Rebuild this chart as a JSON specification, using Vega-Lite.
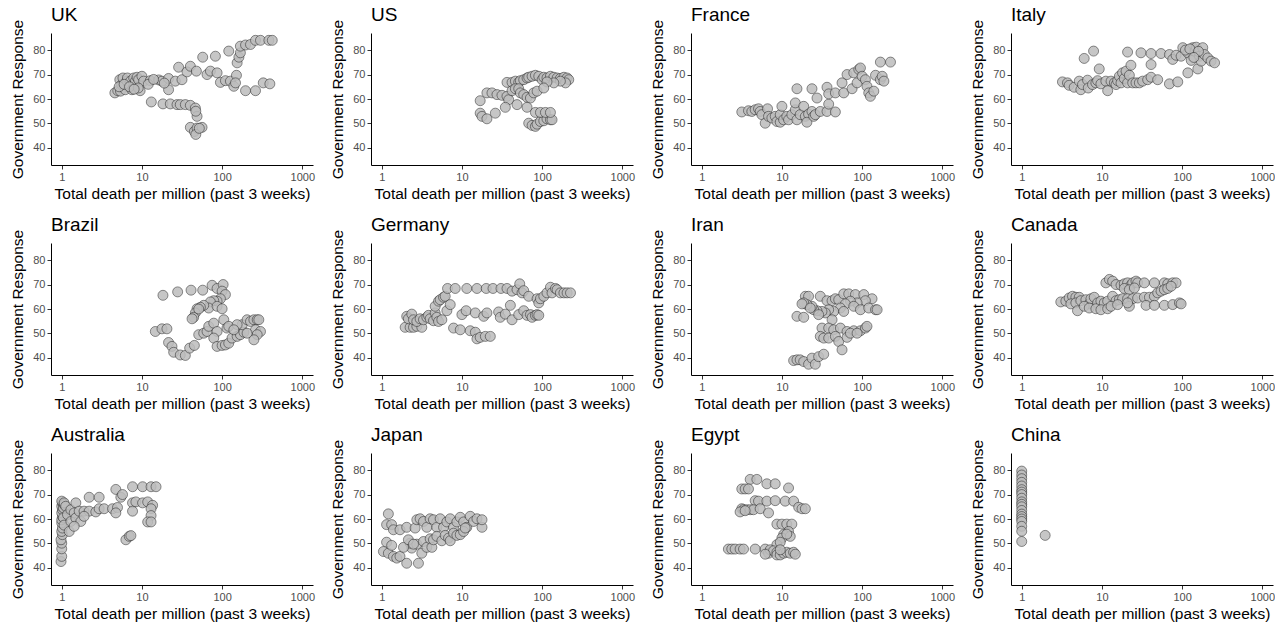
{
"$schema":"https://vega.github.io/schema/vega-lite/v6.json",
"padding":{"left":10,"top":6,"right":0,"bottom":0},
"background":"white",
"data":{"values":[
{"country":"UK","deaths":4.6,"response":62.5},{"country":"UK","deaths":5.0,"response":63.4},{"country":"UK","deaths":5.3,"response":67.9},{"country":"UK","deaths":5.4,"response":63.2},{"country":"UK","deaths":5.6,"response":65.9},{"country":"UK","deaths":5.8,"response":68.6},{"country":"UK","deaths":6.2,"response":63.8},{"country":"UK","deaths":6.5,"response":67.3},{"country":"UK","deaths":6.6,"response":68.6},{"country":"UK","deaths":7.2,"response":67.3},{"country":"UK","deaths":7.5,"response":63.8},{"country":"UK","deaths":7.9,"response":68.6},{"country":"UK","deaths":8.3,"response":67.3},{"country":"UK","deaths":8.7,"response":68.9},{"country":"UK","deaths":9.1,"response":67.9},{"country":"UK","deaths":9.5,"response":63.4},{"country":"UK","deaths":10,"response":69.3},{"country":"UK","deaths":10.5,"response":67.3},{"country":"UK","deaths":12.7,"response":67.5},{"country":"UK","deaths":16.2,"response":67.8},{"country":"UK","deaths":17.8,"response":67.3},{"country":"UK","deaths":21.5,"response":68.4},{"country":"UK","deaths":21.5,"response":63.8},{"country":"UK","deaths":26.1,"response":67.3},{"country":"UK","deaths":31.6,"response":67.9},{"country":"UK","deaths":28.7,"response":73.0},{"country":"UK","deaths":36.5,"response":71.1},{"country":"UK","deaths":40.2,"response":73.4},{"country":"UK","deaths":47.8,"response":71.4},{"country":"UK","deaths":57.3,"response":77.1},{"country":"UK","deaths":64.9,"response":70},{"country":"UK","deaths":71.5,"response":71.4},{"country":"UK","deaths":86.6,"response":70.7},{"country":"UK","deaths":82.5,"response":77.5},{"country":"UK","deaths":95.3,"response":66.8},{"country":"UK","deaths":110,"response":67.5},{"country":"UK","deaths":121,"response":79.6},{"country":"UK","deaths":127,"response":67.3},{"country":"UK","deaths":140,"response":65.2},{"country":"UK","deaths":151,"response":69.7},{"country":"UK","deaths":147,"response":66.6},{"country":"UK","deaths":154,"response":74.8},{"country":"UK","deaths":162,"response":77.1},{"country":"UK","deaths":169,"response":78.9},{"country":"UK","deaths":169,"response":81.6},{"country":"UK","deaths":196,"response":82.1},{"country":"UK","deaths":226,"response":82.3},{"country":"UK","deaths":261,"response":84},{"country":"UK","deaths":301,"response":84},{"country":"UK","deaths":383,"response":84},{"country":"UK","deaths":422,"response":84},{"country":"UK","deaths":196,"response":63.4},{"country":"UK","deaths":261,"response":63.4},{"country":"UK","deaths":326,"response":66.6},{"country":"UK","deaths":394,"response":66.2},{"country":"UK","deaths":13.1,"response":58.8},{"country":"UK","deaths":18.3,"response":58},{"country":"UK","deaths":22.6,"response":58},{"country":"UK","deaths":27.4,"response":57.7},{"country":"UK","deaths":30.1,"response":57.7},{"country":"UK","deaths":34.8,"response":57.7},{"country":"UK","deaths":40.2,"response":57.4},{"country":"UK","deaths":46.4,"response":56.3},{"country":"UK","deaths":48.7,"response":52.9},{"country":"UK","deaths":40.2,"response":48.4},{"country":"UK","deaths":45.1,"response":46.7},{"country":"UK","deaths":48.7,"response":48.1},{"country":"UK","deaths":56.2,"response":48.4},{"country":"UK","deaths":47,"response":55},{"country":"UK","deaths":47,"response":45.5},{"country":"UK","deaths":52,"response":48},{"country":"UK","deaths":5.2,"response":65},{"country":"UK","deaths":6.0,"response":66},{"country":"UK","deaths":7.0,"response":65},{"country":"UK","deaths":9.0,"response":64.5},{"country":"UK","deaths":8.0,"response":64},{"country":"UK","deaths":12,"response":66},{"country":"UK","deaths":14,"response":68},{"country":"UK","deaths":19,"response":66.5},
{"country":"US","deaths":36.5,"response":66.8},{"country":"US","deaths":42.2,"response":66.8},{"country":"US","deaths":46.4,"response":67.3},{"country":"US","deaths":51.1,"response":66.8},{"country":"US","deaths":53.6,"response":67.5},{"country":"US","deaths":59,"response":67.9},{"country":"US","deaths":64.9,"response":68.6},{"country":"US","deaths":68.1,"response":68.9},{"country":"US","deaths":75,"response":69.3},{"country":"US","deaths":82.5,"response":69.7},{"country":"US","deaths":90.9,"response":69.3},{"country":"US","deaths":100,"response":67.9},{"country":"US","deaths":105,"response":68.9},{"country":"US","deaths":115,"response":68.6},{"country":"US","deaths":127,"response":69.3},{"country":"US","deaths":140,"response":68.9},{"country":"US","deaths":154,"response":68.6},{"country":"US","deaths":169,"response":68.4},{"country":"US","deaths":187,"response":68.9},{"country":"US","deaths":205,"response":68.6},{"country":"US","deaths":215,"response":67.9},{"country":"US","deaths":196,"response":66.6},{"country":"US","deaths":169,"response":67.3},{"country":"US","deaths":140,"response":66.6},{"country":"US","deaths":115,"response":67.0},{"country":"US","deaths":16.9,"response":59.3},{"country":"US","deaths":20.5,"response":62.5},{"country":"US","deaths":23.7,"response":62.5},{"country":"US","deaths":27.4,"response":61.8},{"country":"US","deaths":31.6,"response":61.5},{"country":"US","deaths":36.5,"response":61.1},{"country":"US","deaths":38.3,"response":59.7},{"country":"US","deaths":42.2,"response":63.4},{"country":"US","deaths":46.4,"response":64.2},{"country":"US","deaths":51.1,"response":64.2},{"country":"US","deaths":53.6,"response":62.5},{"country":"US","deaths":59,"response":61.8},{"country":"US","deaths":64.9,"response":60.7},{"country":"US","deaths":71.5,"response":60.4},{"country":"US","deaths":78.7,"response":62.5},{"country":"US","deaths":86.6,"response":63.2},{"country":"US","deaths":105,"response":64.5},{"country":"US","deaths":34.8,"response":56.6},{"country":"US","deaths":48.7,"response":57.7},{"country":"US","deaths":64.9,"response":56.6},{"country":"US","deaths":16.9,"response":54.2},{"country":"US","deaths":17.8,"response":52.9},{"country":"US","deaths":20.5,"response":51.9},{"country":"US","deaths":26.1,"response":54.2},{"country":"US","deaths":68.1,"response":50.1},{"country":"US","deaths":75,"response":49.2},{"country":"US","deaths":82.5,"response":48.8},{"country":"US","deaths":86.6,"response":49.7},{"country":"US","deaths":95.3,"response":50.8},{"country":"US","deaths":105,"response":51.1},{"country":"US","deaths":115,"response":51.9},{"country":"US","deaths":127,"response":51.5},{"country":"US","deaths":133,"response":51.5},{"country":"US","deaths":82.5,"response":54.5},{"country":"US","deaths":95.3,"response":54.5},{"country":"US","deaths":110,"response":54.5},{"country":"US","deaths":127,"response":54.5},
{"country":"France","deaths":3.16,"response":54.7},{"country":"France","deaths":3.83,"response":55.2},{"country":"France","deaths":4.22,"response":54.9},{"country":"France","deaths":4.64,"response":55.6},{"country":"France","deaths":5.11,"response":56.0},{"country":"France","deaths":5.36,"response":54.9},{"country":"France","deaths":5.62,"response":53.6},{"country":"France","deaths":6.19,"response":50.1},{"country":"France","deaths":6.62,"response":56.0},{"country":"France","deaths":6.81,"response":52.9},{"country":"France","deaths":7.5,"response":52.2},{"country":"France","deaths":8.25,"response":52.9},{"country":"France","deaths":8.66,"response":50.8},{"country":"France","deaths":9.53,"response":50.5},{"country":"France","deaths":9.53,"response":53.6},{"country":"France","deaths":10,"response":57.0},{"country":"France","deaths":10.5,"response":51.5},{"country":"France","deaths":11.5,"response":52.9},{"country":"France","deaths":12.1,"response":51.5},{"country":"France","deaths":13.3,"response":53.6},{"country":"France","deaths":14.7,"response":55.6},{"country":"France","deaths":14.7,"response":58.4},{"country":"France","deaths":15.4,"response":51.5},{"country":"France","deaths":16.9,"response":53.6},{"country":"France","deaths":18.7,"response":57.0},{"country":"France","deaths":19.6,"response":52.9},{"country":"France","deaths":21.5,"response":53.8},{"country":"France","deaths":20.5,"response":50.5},{"country":"France","deaths":23.7,"response":54.9},{"country":"France","deaths":24.9,"response":52.9},{"country":"France","deaths":26.1,"response":53.6},{"country":"France","deaths":30.1,"response":54.9},{"country":"France","deaths":36.5,"response":54.9},{"country":"France","deaths":38.3,"response":57.9},{"country":"France","deaths":46.4,"response":54.7},{"country":"France","deaths":15.4,"response":64.2},{"country":"France","deaths":23.7,"response":64.2},{"country":"France","deaths":27.4,"response":60.4},{"country":"France","deaths":36.5,"response":64.8},{"country":"France","deaths":38.3,"response":62.1},{"country":"France","deaths":46.4,"response":62.5},{"country":"France","deaths":59,"response":62.5},{"country":"France","deaths":56.2,"response":66.6},{"country":"France","deaths":64.9,"response":70},{"country":"France","deaths":75,"response":64.2},{"country":"France","deaths":78.7,"response":70.7},{"country":"France","deaths":86.6,"response":66.6},{"country":"France","deaths":90.9,"response":72.1},{"country":"France","deaths":95.3,"response":72.7},{"country":"France","deaths":100,"response":69.3},{"country":"France","deaths":110,"response":67.9},{"country":"France","deaths":115,"response":65.2},{"country":"France","deaths":121,"response":62.5},{"country":"France","deaths":127,"response":61.1},{"country":"France","deaths":140,"response":63.2},{"country":"France","deaths":147,"response":69.7},{"country":"France","deaths":169,"response":67.9},{"country":"France","deaths":178,"response":69.3},{"country":"France","deaths":187,"response":67.3},{"country":"France","deaths":169,"response":75.1},{"country":"France","deaths":226,"response":75.1},
{"country":"Italy","deaths":3.22,"response":67.0},{"country":"Italy","deaths":3.72,"response":66.6},{"country":"Italy","deaths":3.9,"response":65.6},{"country":"Italy","deaths":4.51,"response":64.8},{"country":"Italy","deaths":5.21,"response":67.3},{"country":"Italy","deaths":5.46,"response":63.8},{"country":"Italy","deaths":5.73,"response":65.9},{"country":"Italy","deaths":6.62,"response":67.7},{"country":"Italy","deaths":6.75,"response":64.5},{"country":"Italy","deaths":7.64,"response":65.9},{"country":"Italy","deaths":8.41,"response":66.6},{"country":"Italy","deaths":8.83,"response":67.5},{"country":"Italy","deaths":9.71,"response":66.2},{"country":"Italy","deaths":11.2,"response":67.3},{"country":"Italy","deaths":11.8,"response":63.4},{"country":"Italy","deaths":13.0,"response":67.3},{"country":"Italy","deaths":14.3,"response":66.6},{"country":"Italy","deaths":15.0,"response":65.9},{"country":"Italy","deaths":15.7,"response":67.5},{"country":"Italy","deaths":16.5,"response":69.3},{"country":"Italy","deaths":17.3,"response":66.6},{"country":"Italy","deaths":18.1,"response":70.7},{"country":"Italy","deaths":19.0,"response":68.4},{"country":"Italy","deaths":20.0,"response":71.4},{"country":"Italy","deaths":20.9,"response":66.6},{"country":"Italy","deaths":22.0,"response":69.7},{"country":"Italy","deaths":23.0,"response":73.8},{"country":"Italy","deaths":24.2,"response":66.6},{"country":"Italy","deaths":26.6,"response":66.6},{"country":"Italy","deaths":29.3,"response":66.6},{"country":"Italy","deaths":32.2,"response":67.3},{"country":"Italy","deaths":37.2,"response":67.9},{"country":"Italy","deaths":41.0,"response":68.9},{"country":"Italy","deaths":49.6,"response":67.9},{"country":"Italy","deaths":69.5,"response":66.2},{"country":"Italy","deaths":88.3,"response":67.0},{"country":"Italy","deaths":6.01,"response":76.6},{"country":"Italy","deaths":7.87,"response":79.6},{"country":"Italy","deaths":9.26,"response":72.3},{"country":"Italy","deaths":20.9,"response":79.2},{"country":"Italy","deaths":30.7,"response":78.9},{"country":"Italy","deaths":41.0,"response":78.6},{"country":"Italy","deaths":41.0,"response":74.1},{"country":"Italy","deaths":54.6,"response":78.6},{"country":"Italy","deaths":69.5,"response":78.2},{"country":"Italy","deaths":76.4,"response":76.2},{"country":"Italy","deaths":84.1,"response":77.9},{"country":"Italy","deaths":97.2,"response":77.5},{"country":"Italy","deaths":102,"response":81.0},{"country":"Italy","deaths":118,"response":78.9},{"country":"Italy","deaths":118,"response":70.7},{"country":"Italy","deaths":130,"response":75.8},{"country":"Italy","deaths":136,"response":81.0},{"country":"Italy","deaths":143,"response":79.6},{"country":"Italy","deaths":150,"response":81.2},{"country":"Italy","deaths":157,"response":72.3},{"country":"Italy","deaths":165,"response":77.5},{"country":"Italy","deaths":173,"response":75.5},{"country":"Italy","deaths":181,"response":81.0},{"country":"Italy","deaths":190,"response":78.2},{"country":"Italy","deaths":209,"response":76.8},{"country":"Italy","deaths":230,"response":75.5},{"country":"Italy","deaths":254,"response":74.8},{"country":"Italy","deaths":110,"response":80},{"country":"Italy","deaths":125,"response":80.5},{"country":"Italy","deaths":160,"response":79.5},{"country":"Italy","deaths":140,"response":77},
{"country":"Brazil","deaths":18.3,"response":65.6},{"country":"Brazil","deaths":27.9,"response":67.0},{"country":"Brazil","deaths":41.0,"response":67.7},{"country":"Brazil","deaths":57.3,"response":67.7},{"country":"Brazil","deaths":75,"response":69.7},{"country":"Brazil","deaths":86.6,"response":68.4},{"country":"Brazil","deaths":103,"response":70},{"country":"Brazil","deaths":100,"response":67.3},{"country":"Brazil","deaths":110,"response":65.9},{"country":"Brazil","deaths":95.3,"response":64.2},{"country":"Brazil","deaths":86.6,"response":63.2},{"country":"Brazil","deaths":78.7,"response":63.4},{"country":"Brazil","deaths":71.5,"response":62.9},{"country":"Brazil","deaths":68.1,"response":60.4},{"country":"Brazil","deaths":59,"response":61.5},{"country":"Brazil","deaths":53.6,"response":60.7},{"country":"Brazil","deaths":48.7,"response":60.1},{"country":"Brazil","deaths":46.4,"response":58.4},{"country":"Brazil","deaths":44.2,"response":56.6},{"country":"Brazil","deaths":42.2,"response":56.0},{"country":"Brazil","deaths":51.1,"response":60.0},{"country":"Brazil","deaths":86.6,"response":61.1},{"country":"Brazil","deaths":100,"response":60.1},{"country":"Brazil","deaths":14.7,"response":50.8},{"country":"Brazil","deaths":17.8,"response":51.9},{"country":"Brazil","deaths":20.5,"response":51.9},{"country":"Brazil","deaths":21.5,"response":46.3},{"country":"Brazil","deaths":23.7,"response":44.7},{"country":"Brazil","deaths":24.9,"response":42.3},{"country":"Brazil","deaths":30.1,"response":41.2},{"country":"Brazil","deaths":34.8,"response":41.0},{"country":"Brazil","deaths":39.4,"response":44.0},{"country":"Brazil","deaths":45.1,"response":45.1},{"country":"Brazil","deaths":51.1,"response":49.5},{"country":"Brazil","deaths":59,"response":50.1},{"country":"Brazil","deaths":64.9,"response":50.8},{"country":"Brazil","deaths":68.1,"response":52.9},{"country":"Brazil","deaths":78.7,"response":54.2},{"country":"Brazil","deaths":86.6,"response":50.8},{"country":"Brazil","deaths":105,"response":55.6},{"country":"Brazil","deaths":115,"response":52.2},{"country":"Brazil","deaths":121,"response":52.9},{"country":"Brazil","deaths":78.7,"response":48.1},{"country":"Brazil","deaths":86.6,"response":44.7},{"country":"Brazil","deaths":100,"response":45.1},{"country":"Brazil","deaths":110,"response":45.3},{"country":"Brazil","deaths":121,"response":46.0},{"country":"Brazil","deaths":133,"response":48.1},{"country":"Brazil","deaths":154,"response":48.8},{"country":"Brazil","deaths":169,"response":49.5},{"country":"Brazil","deaths":187,"response":50.5},{"country":"Brazil","deaths":178,"response":53.6},{"country":"Brazil","deaths":205,"response":55.6},{"country":"Brazil","deaths":226,"response":54.9},{"country":"Brazil","deaths":249,"response":55.6},{"country":"Brazil","deaths":274,"response":55.6},{"country":"Brazil","deaths":287,"response":55.6},{"country":"Brazil","deaths":261,"response":51.5},{"country":"Brazil","deaths":301,"response":50.8},{"country":"Brazil","deaths":274,"response":49.5},{"country":"Brazil","deaths":249,"response":47.4},{"country":"Brazil","deaths":205,"response":50.1},{"country":"Brazil","deaths":154,"response":53.6},{"country":"Brazil","deaths":140,"response":51.5},
{"country":"Germany","deaths":1.96,"response":52.5},{"country":"Germany","deaths":2.26,"response":52.5},{"country":"Germany","deaths":2.49,"response":52.5},{"country":"Germany","deaths":2.74,"response":52.9},{"country":"Germany","deaths":3.16,"response":52.5},{"country":"Germany","deaths":2.05,"response":57.0},{"country":"Germany","deaths":2.15,"response":56.0},{"country":"Germany","deaths":2.37,"response":57.9},{"country":"Germany","deaths":2.49,"response":55.6},{"country":"Germany","deaths":2.74,"response":54.9},{"country":"Germany","deaths":3.01,"response":56.0},{"country":"Germany","deaths":3.32,"response":55.6},{"country":"Germany","deaths":3.65,"response":56.6},{"country":"Germany","deaths":3.83,"response":57.4},{"country":"Germany","deaths":4.02,"response":56.0},{"country":"Germany","deaths":4.42,"response":55.2},{"country":"Germany","deaths":4.64,"response":58.4},{"country":"Germany","deaths":4.87,"response":56.6},{"country":"Germany","deaths":5.11,"response":54.9},{"country":"Germany","deaths":5.62,"response":55.6},{"country":"Germany","deaths":4.64,"response":61.1},{"country":"Germany","deaths":5.11,"response":63.2},{"country":"Germany","deaths":5.36,"response":63.8},{"country":"Germany","deaths":5.9,"response":64.8},{"country":"Germany","deaths":6.19,"response":65.2},{"country":"Germany","deaths":6.62,"response":68.4},{"country":"Germany","deaths":8.25,"response":68.4},{"country":"Germany","deaths":6.49,"response":59.3},{"country":"Germany","deaths":7.15,"response":61.8},{"country":"Germany","deaths":7.87,"response":52.2},{"country":"Germany","deaths":9.53,"response":51.5},{"country":"Germany","deaths":12.7,"response":51.1},{"country":"Germany","deaths":14.7,"response":50.5},{"country":"Germany","deaths":15.4,"response":47.8},{"country":"Germany","deaths":16.9,"response":48.4},{"country":"Germany","deaths":19.6,"response":48.8},{"country":"Germany","deaths":22.6,"response":48.8},{"country":"Germany","deaths":10,"response":57.7},{"country":"Germany","deaths":11.3,"response":59.3},{"country":"Germany","deaths":14.7,"response":58.4},{"country":"Germany","deaths":18.7,"response":57.0},{"country":"Germany","deaths":20.5,"response":58.4},{"country":"Germany","deaths":11.5,"response":68.4},{"country":"Germany","deaths":15.4,"response":68.4},{"country":"Germany","deaths":20.1,"response":68.4},{"country":"Germany","deaths":24.4,"response":68.4},{"country":"Germany","deaths":30.7,"response":68.4},{"country":"Germany","deaths":36.5,"response":68.4},{"country":"Germany","deaths":42.2,"response":67.3},{"country":"Germany","deaths":48.7,"response":67.9},{"country":"Germany","deaths":52.6,"response":70.3},{"country":"Germany","deaths":56.2,"response":66.6},{"country":"Germany","deaths":59,"response":67.5},{"country":"Germany","deaths":68.1,"response":65.2},{"country":"Germany","deaths":86.6,"response":64.2},{"country":"Germany","deaths":90.9,"response":62.5},{"country":"Germany","deaths":95.3,"response":64.2},{"country":"Germany","deaths":105,"response":65.2},{"country":"Germany","deaths":115,"response":66.6},{"country":"Germany","deaths":127,"response":68.9},{"country":"Germany","deaths":133,"response":66.6},{"country":"Germany","deaths":147,"response":68.4},{"country":"Germany","deaths":154,"response":67.9},{"country":"Germany","deaths":169,"response":66.6},{"country":"Germany","deaths":187,"response":66.6},{"country":"Germany","deaths":205,"response":66.6},{"country":"Germany","deaths":226,"response":66.6},{"country":"Germany","deaths":28.7,"response":58.8},{"country":"Germany","deaths":30.1,"response":56.6},{"country":"Germany","deaths":34.8,"response":57.9},{"country":"Germany","deaths":40.2,"response":61.5},{"country":"Germany","deaths":42.2,"response":55.6},{"country":"Germany","deaths":51.1,"response":57.7},{"country":"Germany","deaths":59,"response":59.3},{"country":"Germany","deaths":64.9,"response":57.4},{"country":"Germany","deaths":71.5,"response":57.7},{"country":"Germany","deaths":75,"response":56.6},{"country":"Germany","deaths":82.5,"response":57.4},{"country":"Germany","deaths":86.6,"response":57.7},{"country":"Germany","deaths":90.9,"response":57.4},
{"country":"Iran","deaths":19.6,"response":65.2},{"country":"Iran","deaths":21.5,"response":65.2},{"country":"Iran","deaths":30.1,"response":65.2},{"country":"Iran","deaths":36.5,"response":63.4},{"country":"Iran","deaths":42.2,"response":63.4},{"country":"Iran","deaths":46.4,"response":64.2},{"country":"Iran","deaths":51.1,"response":63.8},{"country":"Iran","deaths":59,"response":66.2},{"country":"Iran","deaths":68.1,"response":66.2},{"country":"Iran","deaths":82.5,"response":65.9},{"country":"Iran","deaths":105,"response":65.9},{"country":"Iran","deaths":133,"response":64.2},{"country":"Iran","deaths":110,"response":63.4},{"country":"Iran","deaths":86.6,"response":62.5},{"country":"Iran","deaths":71.5,"response":63.2},{"country":"Iran","deaths":61.9,"response":62.1},{"country":"Iran","deaths":53.6,"response":60.4},{"country":"Iran","deaths":44.2,"response":59.0},{"country":"Iran","deaths":38.3,"response":59.7},{"country":"Iran","deaths":34.8,"response":58.4},{"country":"Iran","deaths":31.6,"response":59.0},{"country":"Iran","deaths":27.4,"response":59.3},{"country":"Iran","deaths":24.9,"response":59.7},{"country":"Iran","deaths":23.7,"response":61.1},{"country":"Iran","deaths":20.5,"response":61.8},{"country":"Iran","deaths":18.7,"response":62.5},{"country":"Iran","deaths":17.8,"response":62.1},{"country":"Iran","deaths":22.6,"response":60.4},{"country":"Iran","deaths":28.7,"response":57.7},{"country":"Iran","deaths":42.2,"response":55.6},{"country":"Iran","deaths":59,"response":59.0},{"country":"Iran","deaths":78.7,"response":61.1},{"country":"Iran","deaths":95.3,"response":59.7},{"country":"Iran","deaths":121,"response":60.4},{"country":"Iran","deaths":147,"response":59.7},{"country":"Iran","deaths":154,"response":59.7},{"country":"Iran","deaths":15.4,"response":57.0},{"country":"Iran","deaths":18.7,"response":56.6},{"country":"Iran","deaths":31.6,"response":52.2},{"country":"Iran","deaths":38.3,"response":52.2},{"country":"Iran","deaths":44.2,"response":51.5},{"country":"Iran","deaths":53.6,"response":52.2},{"country":"Iran","deaths":64.9,"response":50.8},{"country":"Iran","deaths":78.7,"response":51.1},{"country":"Iran","deaths":95.3,"response":51.1},{"country":"Iran","deaths":110,"response":52.2},{"country":"Iran","deaths":115,"response":52.9},{"country":"Iran","deaths":30.1,"response":48.8},{"country":"Iran","deaths":33.2,"response":48.1},{"country":"Iran","deaths":38.3,"response":48.1},{"country":"Iran","deaths":46.4,"response":48.8},{"country":"Iran","deaths":51.1,"response":46.7},{"country":"Iran","deaths":56.2,"response":43.3},{"country":"Iran","deaths":64.9,"response":48.4},{"country":"Iran","deaths":71.5,"response":50.1},{"country":"Iran","deaths":86.6,"response":50.1},{"country":"Iran","deaths":14.0,"response":38.9},{"country":"Iran","deaths":15.4,"response":39.2},{"country":"Iran","deaths":16.9,"response":39.2},{"country":"Iran","deaths":18.7,"response":38.5},{"country":"Iran","deaths":21.5,"response":37.4},{"country":"Iran","deaths":23.7,"response":39.9},{"country":"Iran","deaths":26.1,"response":37.4},{"country":"Iran","deaths":28.7,"response":40.5},{"country":"Iran","deaths":33.2,"response":41.5},
{"country":"Canada","deaths":11.2,"response":70.7},{"country":"Canada","deaths":12.4,"response":72.1},{"country":"Canada","deaths":13.6,"response":71.4},{"country":"Canada","deaths":15.0,"response":70},{"country":"Canada","deaths":17.3,"response":69.7},{"country":"Canada","deaths":19.0,"response":70.3},{"country":"Canada","deaths":20.9,"response":70.7},{"country":"Canada","deaths":23.0,"response":69.7},{"country":"Canada","deaths":24.2,"response":70.7},{"country":"Canada","deaths":26.6,"response":71.4},{"country":"Canada","deaths":27.9,"response":70.7},{"country":"Canada","deaths":33.8,"response":70.7},{"country":"Canada","deaths":45.1,"response":70.7},{"country":"Canada","deaths":60.1,"response":70.7},{"country":"Canada","deaths":66.2,"response":70.3},{"country":"Canada","deaths":76.4,"response":70.7},{"country":"Canada","deaths":84.1,"response":70.7},{"country":"Canada","deaths":19.0,"response":68.4},{"country":"Canada","deaths":22.0,"response":67.9},{"country":"Canada","deaths":25.4,"response":68.6},{"country":"Canada","deaths":3.07,"response":62.9},{"country":"Canada","deaths":3.55,"response":63.2},{"country":"Canada","deaths":3.9,"response":64.5},{"country":"Canada","deaths":4.3,"response":65.2},{"country":"Canada","deaths":4.73,"response":64.8},{"country":"Canada","deaths":5.21,"response":64.8},{"country":"Canada","deaths":4.1,"response":62.1},{"country":"Canada","deaths":4.73,"response":62.5},{"country":"Canada","deaths":5.46,"response":63.4},{"country":"Canada","deaths":6.31,"response":63.8},{"country":"Canada","deaths":6.95,"response":62.1},{"country":"Canada","deaths":7.29,"response":64.2},{"country":"Canada","deaths":8.02,"response":64.8},{"country":"Canada","deaths":8.83,"response":62.5},{"country":"Canada","deaths":9.71,"response":63.2},{"country":"Canada","deaths":10.7,"response":62.5},{"country":"Canada","deaths":11.8,"response":63.2},{"country":"Canada","deaths":13.6,"response":65.2},{"country":"Canada","deaths":15.0,"response":63.4},{"country":"Canada","deaths":16.5,"response":63.8},{"country":"Canada","deaths":18.1,"response":64.2},{"country":"Canada","deaths":20.9,"response":64.2},{"country":"Canada","deaths":24.2,"response":64.2},{"country":"Canada","deaths":27.9,"response":64.5},{"country":"Canada","deaths":33.8,"response":64.8},{"country":"Canada","deaths":39.1,"response":64.8},{"country":"Canada","deaths":45.1,"response":65.2},{"country":"Canada","deaths":49.6,"response":66.6},{"country":"Canada","deaths":54.6,"response":67.3},{"country":"Canada","deaths":60.1,"response":67.9},{"country":"Canada","deaths":66.2,"response":68.4},{"country":"Canada","deaths":72.9,"response":69.3},{"country":"Canada","deaths":4.96,"response":59.3},{"country":"Canada","deaths":6.01,"response":61.1},{"country":"Canada","deaths":6.95,"response":60.4},{"country":"Canada","deaths":8.41,"response":60.1},{"country":"Canada","deaths":9.71,"response":59.7},{"country":"Canada","deaths":11.8,"response":60.1},{"country":"Canada","deaths":13.0,"response":61.1},{"country":"Canada","deaths":15.7,"response":61.8},{"country":"Canada","deaths":22.0,"response":61.1},{"country":"Canada","deaths":35.5,"response":61.5},{"country":"Canada","deaths":45.1,"response":61.5},{"country":"Canada","deaths":60.1,"response":61.5},{"country":"Canada","deaths":76.4,"response":61.8},{"country":"Canada","deaths":92.6,"response":62.5},{"country":"Canada","deaths":97.2,"response":62.1},{"country":"Canada","deaths":20.9,"response":62.5},
{"country":"Australia","deaths":0.98,"response":42.6},{"country":"Australia","deaths":1.0,"response":44.7},{"country":"Australia","deaths":1.0,"response":47.8},{"country":"Australia","deaths":1.0,"response":50.1},{"country":"Australia","deaths":0.98,"response":51.5},{"country":"Australia","deaths":1.02,"response":53.6},{"country":"Australia","deaths":1.0,"response":54.9},{"country":"Australia","deaths":1.02,"response":56.3},{"country":"Australia","deaths":1.0,"response":58.4},{"country":"Australia","deaths":1.0,"response":59.7},{"country":"Australia","deaths":1.02,"response":61.1},{"country":"Australia","deaths":1.0,"response":62.5},{"country":"Australia","deaths":1.02,"response":63.8},{"country":"Australia","deaths":1.0,"response":65.2},{"country":"Australia","deaths":1.02,"response":66.6},{"country":"Australia","deaths":1.0,"response":67.3},{"country":"Australia","deaths":1.05,"response":60.5},{"country":"Australia","deaths":1.05,"response":64.5},{"country":"Australia","deaths":1.07,"response":57.5},{"country":"Australia","deaths":1.07,"response":66},{"country":"Australia","deaths":1.07,"response":66.6},{"country":"Australia","deaths":1.12,"response":65.2},{"country":"Australia","deaths":1.18,"response":61.8},{"country":"Australia","deaths":1.24,"response":54.9},{"country":"Australia","deaths":1.30,"response":63.8},{"country":"Australia","deaths":1.30,"response":59.0},{"country":"Australia","deaths":1.43,"response":62.5},{"country":"Australia","deaths":1.50,"response":66.6},{"country":"Australia","deaths":1.50,"response":60.4},{"country":"Australia","deaths":1.65,"response":63.2},{"country":"Australia","deaths":1.73,"response":59.0},{"country":"Australia","deaths":1.90,"response":63.2},{"country":"Australia","deaths":1.43,"response":57.0},{"country":"Australia","deaths":2.20,"response":68.9},{"country":"Australia","deaths":2.20,"response":63.2},{"country":"Australia","deaths":1.90,"response":61.1},{"country":"Australia","deaths":2.66,"response":62.9},{"country":"Australia","deaths":2.93,"response":68.9},{"country":"Australia","deaths":2.93,"response":64.2},{"country":"Australia","deaths":3.38,"response":64.2},{"country":"Australia","deaths":4.30,"response":64.2},{"country":"Australia","deaths":4.73,"response":72.1},{"country":"Australia","deaths":4.96,"response":64.7},{"country":"Australia","deaths":5.46,"response":68.9},{"country":"Australia","deaths":5.73,"response":70},{"country":"Australia","deaths":4.73,"response":62.5},{"country":"Australia","deaths":7.64,"response":73.2},{"country":"Australia","deaths":10.2,"response":73.2},{"country":"Australia","deaths":13.0,"response":73.2},{"country":"Australia","deaths":15.0,"response":73.2},{"country":"Australia","deaths":7.64,"response":66.6},{"country":"Australia","deaths":8.41,"response":67.0},{"country":"Australia","deaths":10.2,"response":66.6},{"country":"Australia","deaths":11.8,"response":67.0},{"country":"Australia","deaths":13.6,"response":65.6},{"country":"Australia","deaths":13.0,"response":64.2},{"country":"Australia","deaths":7.64,"response":63.2},{"country":"Australia","deaths":13.0,"response":61.4},{"country":"Australia","deaths":11.8,"response":58.8},{"country":"Australia","deaths":13.0,"response":58.8},{"country":"Australia","deaths":6.31,"response":51.5},{"country":"Australia","deaths":6.95,"response":52.9},{"country":"Australia","deaths":7.29,"response":53.2},
{"country":"Japan","deaths":1.21,"response":62.1},{"country":"Japan","deaths":1.15,"response":57.7},{"country":"Japan","deaths":1.33,"response":57.7},{"country":"Japan","deaths":1.40,"response":55.6},{"country":"Japan","deaths":1.69,"response":55.6},{"country":"Japan","deaths":2.05,"response":56.6},{"country":"Japan","deaths":2.61,"response":56.3},{"country":"Japan","deaths":2.74,"response":59.7},{"country":"Japan","deaths":3.01,"response":60.1},{"country":"Japan","deaths":3.32,"response":59.0},{"country":"Japan","deaths":3.65,"response":56.6},{"country":"Japan","deaths":4.02,"response":60.1},{"country":"Japan","deaths":4.42,"response":59.7},{"country":"Japan","deaths":4.87,"response":56.6},{"country":"Japan","deaths":5.36,"response":60.1},{"country":"Japan","deaths":5.9,"response":56.6},{"country":"Japan","deaths":6.49,"response":58.8},{"country":"Japan","deaths":7.15,"response":60.1},{"country":"Japan","deaths":7.87,"response":56.6},{"country":"Japan","deaths":8.66,"response":58.8},{"country":"Japan","deaths":9.53,"response":60.7},{"country":"Japan","deaths":10.5,"response":58.8},{"country":"Japan","deaths":11.5,"response":56.6},{"country":"Japan","deaths":12.7,"response":61.1},{"country":"Japan","deaths":14.0,"response":59.0},{"country":"Japan","deaths":15.4,"response":60.1},{"country":"Japan","deaths":17.8,"response":56.6},{"country":"Japan","deaths":17.8,"response":59.7},{"country":"Japan","deaths":1.15,"response":50.5},{"country":"Japan","deaths":1.05,"response":46.7},{"country":"Japan","deaths":1.21,"response":46.0},{"country":"Japan","deaths":1.33,"response":49.2},{"country":"Japan","deaths":1.40,"response":44.7},{"country":"Japan","deaths":1.54,"response":44.0},{"country":"Japan","deaths":1.69,"response":44.7},{"country":"Japan","deaths":2.05,"response":41.9},{"country":"Japan","deaths":2.37,"response":48.1},{"country":"Japan","deaths":2.26,"response":50.1},{"country":"Japan","deaths":2.74,"response":49.7},{"country":"Japan","deaths":2.87,"response":41.9},{"country":"Japan","deaths":3.16,"response":46.0},{"country":"Japan","deaths":3.32,"response":50.8},{"country":"Japan","deaths":3.65,"response":48.4},{"country":"Japan","deaths":4.02,"response":51.9},{"country":"Japan","deaths":4.22,"response":48.4},{"country":"Japan","deaths":4.42,"response":51.5},{"country":"Japan","deaths":4.87,"response":52.9},{"country":"Japan","deaths":5.62,"response":51.1},{"country":"Japan","deaths":6.19,"response":53.3},{"country":"Japan","deaths":6.81,"response":52.2},{"country":"Japan","deaths":7.15,"response":51.1},{"country":"Japan","deaths":7.87,"response":54.2},{"country":"Japan","deaths":8.66,"response":53.3},{"country":"Japan","deaths":9.53,"response":53.6},{"country":"Japan","deaths":10.5,"response":54.9},{"country":"Japan","deaths":11.0,"response":56.3},{"country":"Japan","deaths":1.87,"response":48.4},{"country":"Japan","deaths":2.15,"response":51.5},{"country":"Japan","deaths":2.49,"response":49.7},
{"country":"Egypt","deaths":4.02,"response":76.2},{"country":"Egypt","deaths":4.87,"response":76.2},{"country":"Egypt","deaths":6.49,"response":74.4},{"country":"Egypt","deaths":8.25,"response":74.4},{"country":"Egypt","deaths":12.1,"response":72.7},{"country":"Egypt","deaths":3.16,"response":72.3},{"country":"Egypt","deaths":3.48,"response":72.3},{"country":"Egypt","deaths":3.83,"response":72.3},{"country":"Egypt","deaths":4.64,"response":67.5},{"country":"Egypt","deaths":5.11,"response":67.3},{"country":"Egypt","deaths":6.49,"response":67.3},{"country":"Egypt","deaths":8.25,"response":67.5},{"country":"Egypt","deaths":11.0,"response":67.3},{"country":"Egypt","deaths":14.0,"response":67.3},{"country":"Egypt","deaths":16.2,"response":64.8},{"country":"Egypt","deaths":17.8,"response":64.2},{"country":"Egypt","deaths":19.6,"response":64.2},{"country":"Egypt","deaths":3.16,"response":64.2},{"country":"Egypt","deaths":3.32,"response":63.8},{"country":"Egypt","deaths":3.65,"response":63.8},{"country":"Egypt","deaths":4.02,"response":63.8},{"country":"Egypt","deaths":4.42,"response":63.8},{"country":"Egypt","deaths":5.36,"response":64.2},{"country":"Egypt","deaths":6.81,"response":62.5},{"country":"Egypt","deaths":3.01,"response":62.9},{"country":"Egypt","deaths":3.48,"response":63.4},{"country":"Egypt","deaths":8.66,"response":57.9},{"country":"Egypt","deaths":10,"response":57.9},{"country":"Egypt","deaths":11.5,"response":57.9},{"country":"Egypt","deaths":13.3,"response":57.9},{"country":"Egypt","deaths":12.1,"response":54.9},{"country":"Egypt","deaths":10.5,"response":53.6},{"country":"Egypt","deaths":10,"response":52.2},{"country":"Egypt","deaths":12.7,"response":52.9},{"country":"Egypt","deaths":11.5,"response":53.8},{"country":"Egypt","deaths":8.66,"response":49.5},{"country":"Egypt","deaths":9.53,"response":50.5},{"country":"Egypt","deaths":2.15,"response":47.7},{"country":"Egypt","deaths":2.37,"response":47.7},{"country":"Egypt","deaths":2.61,"response":47.7},{"country":"Egypt","deaths":3.01,"response":47.7},{"country":"Egypt","deaths":3.32,"response":47.7},{"country":"Egypt","deaths":4.64,"response":47.7},{"country":"Egypt","deaths":6.19,"response":47.7},{"country":"Egypt","deaths":6.81,"response":46.0},{"country":"Egypt","deaths":7.15,"response":47.4},{"country":"Egypt","deaths":7.87,"response":47.0},{"country":"Egypt","deaths":8.66,"response":46.4},{"country":"Egypt","deaths":8.66,"response":45.3},{"country":"Egypt","deaths":9.53,"response":45.3},{"country":"Egypt","deaths":10.5,"response":46.0},{"country":"Egypt","deaths":11.5,"response":46.4},{"country":"Egypt","deaths":12.7,"response":46.0},{"country":"Egypt","deaths":14.0,"response":46.4},{"country":"Egypt","deaths":14.7,"response":45.6},{"country":"Egypt","deaths":9.53,"response":47.4},{"country":"Egypt","deaths":6.19,"response":45.6},
{"country":"China","deaths":1,"response":79.6},{"country":"China","deaths":1,"response":78},{"country":"China","deaths":1,"response":76.5},{"country":"China","deaths":1,"response":75},{"country":"China","deaths":1,"response":73.5},{"country":"China","deaths":1,"response":72},{"country":"China","deaths":1,"response":71},{"country":"China","deaths":1,"response":70},{"country":"China","deaths":1,"response":68.5},{"country":"China","deaths":1,"response":67},{"country":"China","deaths":1,"response":66},{"country":"China","deaths":1,"response":65},{"country":"China","deaths":1,"response":63.5},{"country":"China","deaths":1,"response":62},{"country":"China","deaths":1,"response":61},{"country":"China","deaths":1,"response":60},{"country":"China","deaths":1,"response":59},{"country":"China","deaths":1,"response":57},{"country":"China","deaths":1,"response":55},{"country":"China","deaths":1,"response":50.8},{"country":"China","deaths":1.96,"response":53.3}
]},
"facet":{"field":"country","type":"nominal","sort":["UK","US","France","Italy","Brazil","Germany","Iran","Canada","Australia","Japan","Egypt","China"],
 "header":{"title":null,"labelAnchor":"start","labelAlign":"left","labelFontSize":19,"labelFont":"Liberation Sans","labelColor":"#000","labelPadding":-6}},
"columns":4,
"bounds":"flush",
"spacing":{"row":78,"column":58},
"resolve":{"axis":{"x":"independent","y":"independent"}},
"spec":{
 "width":262,"height":132,
 "mark":{"type":"point","shape":"circle","filled":true,"size":100,"fill":"#bdbdbd","stroke":"#222222","strokeWidth":0.6,"opacity":0.85},
 "encoding":{
  "x":{"field":"deaths","type":"quantitative","scale":{"type":"log","domain":[0.735,1360],"nice":false},
   "axis":{"title":"Total death per million (past 3 weeks)","values":[1,10,100,1000],"format":"d","grid":false}},
  "y":{"field":"response","type":"quantitative","scale":{"domain":[33,87],"nice":false,"zero":false},
   "axis":{"title":"Government Response","values":[40,50,60,70,80],"grid":false,"titlePadding":7}}
 }
},
"config":{
 "view":{"stroke":null},
 "axis":{"domainColor":"#000","domainWidth":1,"tickColor":"#333","tickSize":4,"labelColor":"#4d4d4d","labelFontSize":11,"labelFont":"Liberation Sans","labelPadding":2,"titleFont":"Liberation Sans","titleFontSize":15.5,"titleFontWeight":"normal","titleColor":"#000","titlePadding":4}
}
}
